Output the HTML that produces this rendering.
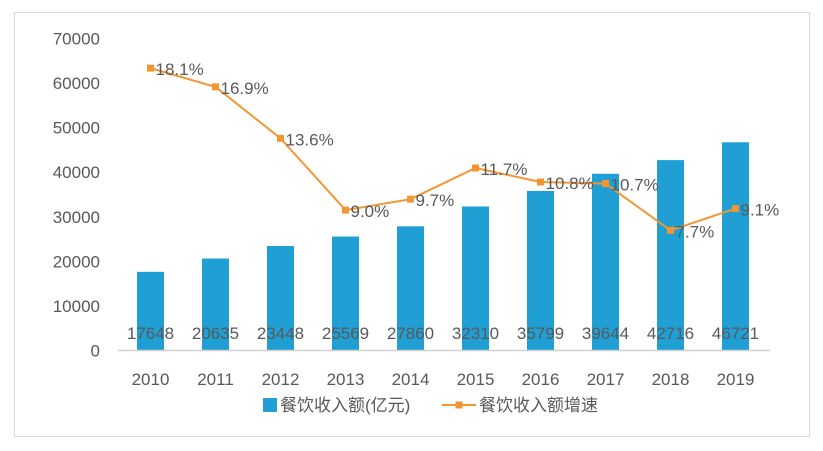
<!DOCTYPE html>
<html><head><meta charset="utf-8"><style>
body{margin:0;background:#fff;}
svg text{font-family:"Liberation Sans","Noto Sans CJK SC",sans-serif;fill:#595959;}
</style></head><body>
<svg width="823" height="446">
<rect x="14.5" y="12.5" width="795" height="424" fill="#fff" stroke="#d9d9d9"/>
<g id="g"></g>
</svg>
<script>
const years=["2010","2011","2012","2013","2014","2015","2016","2017","2018","2019"];
const revenue=[17648,20635,23448,25569,27860,32310,35799,39644,42716,46721];
const growth=[18.1,16.9,13.6,9.0,9.7,11.7,10.8,10.7,7.7,9.1];
const yTicks=[0,10000,20000,30000,40000,50000,60000,70000];
const NS="http://www.w3.org/2000/svg";
const g=document.getElementById('g');
const y0=350.5, yTop=38.5;
const yL=v=>y0-(v/70000)*(y0-yTop);
const yR=v=>y0-(v/20)*(y0-yTop);
const xC=i=>150.5+i*65;
function mk(t,a,txt){const e=document.createElementNS(NS,t);for(const k in a)e.setAttribute(k,a[k]);if(txt!=null)e.textContent=txt;g.appendChild(e);return e;}
yTicks.forEach(v=>{
 const e=mk('text',{x:100,y:yL(v)+6,'text-anchor':'end','font-size':17},v);
 
 
});
revenue.forEach((v,i)=>{
 const b=mk('rect',{x:xC(i)-13.5,y:yL(v),width:27,height:y0-yL(v),fill:'#1f9fd4'});
 
 
});
const ax=mk('line',{x1:118,x2:770,y1:y0,y2:y0,stroke:'#d0d0d0','stroke-width':1.5});


revenue.forEach((v,i)=>{
 const t=mk('text',{x:xC(i),y:339,'text-anchor':'middle','font-size':17},v);
 
 
});
years.forEach((v,i)=>{
 const t=mk('text',{x:xC(i),y:385,'text-anchor':'middle','font-size':17},v);
 
 
});
const pl=mk('polyline',{points:growth.map((v,i)=>xC(i)+','+yR(v)).join(' '),fill:'none',stroke:'#f29634','stroke-width':2});


growth.forEach((v,i)=>{
 const m=mk('rect',{x:xC(i)-3.5,y:yR(v)-3.5,width:7,height:7,fill:'#f29634'});
 
 
 const t=mk('text',{x:xC(i)+5,y:yR(v)+7,'font-size':17},v.toFixed(1)+'%');
 
 
});
const l1=mk('rect',{x:263,y:398,width:14,height:14,fill:'#1f9fd4'});


const lt1=mk('text',{x:280,y:411,'font-size':17},'餐饮收入额(亿元)');


const l2=mk('line',{x1:442,x2:476,y1:405,y2:405,stroke:'#f29634','stroke-width':2});


const l3=mk('rect',{x:455.5,y:401.5,width:7,height:7,fill:'#f29634'});


const lt2=mk('text',{x:479,y:411,'font-size':17},'餐饮收入额增速');


</script>
</body></html>
